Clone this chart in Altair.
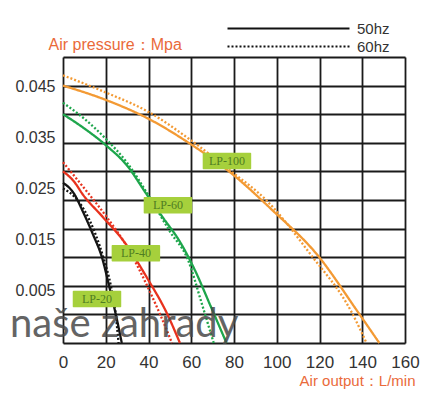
import altair as alt
import pandas as pd

# ---- data ----
lp100_50_x = [0, 20, 40, 60, 78, 98, 119, 138, 148]
lp100_50_y = [0.045, 0.0425, 0.0392, 0.0347, 0.0299, 0.0232, 0.0154, 0.0054, 0.0]
lp100_60_x = [0, 20, 40, 60, 78, 95, 116, 135, 142]
lp100_60_y = [0.0468, 0.0438, 0.0404, 0.0354, 0.0302, 0.0250, 0.0154, 0.0054, 0.0]

lp60_50_x = [0, 10, 20, 30, 39.3, 47, 54.7, 62, 69, 76.5]
lp60_50_y = [0.040, 0.0375, 0.0346, 0.031, 0.0259, 0.0218, 0.0177, 0.0125, 0.0065, 0.0]
lp60_60_x = [0, 10, 20, 30, 40, 50, 58.5, 65, 70.5]
lp60_60_y = [0.042, 0.0392, 0.0357, 0.0315, 0.0258, 0.0195, 0.0145, 0.0068, 0.0]

lp40_50_x = [0, 5, 9.4, 18.7, 29, 39.3, 48.6, 54.7]
lp40_50_y = [0.030, 0.0283, 0.0259, 0.022, 0.0175, 0.0114, 0.0052, 0.0]
lp40_60_x = [0, 9.4, 20.5, 30, 40, 46, 51]
lp40_60_y = [0.0316, 0.0273, 0.022, 0.0168, 0.0095, 0.0045, 0.0]

lp20_50_x = [0, 5, 9.4, 14, 18.2, 22, 25, 27.5]
lp20_50_y = [0.028, 0.0262, 0.0229, 0.019, 0.015, 0.0093, 0.0045, 0.0]
lp20_60_x = [0, 5, 10, 15, 19, 22.5, 24.5, 26]
lp20_60_y = [0.027, 0.0257, 0.0232, 0.0192, 0.0148, 0.0098, 0.0055, 0.0]

pumps = ["LP-100", "LP-60", "LP-40", "LP-20"]
pump_colors = ["#f39a34", "#1ea64c", "#e8321e", "#151515"]
freqs = ["50hz", "60hz"]

label_x = [76.7, 49.1, 34.1, 15.9]
label_y = [0.0318, 0.0241, 0.0157, 0.0077]

x_ticks = [0, 20, 40, 60, 80, 100, 120, 140, 160]
y_grid = [0.0, 0.005, 0.01, 0.015, 0.02, 0.025, 0.03, 0.035, 0.04, 0.045, 0.05]
y_labels = [0.005, 0.015, 0.025, 0.035, 0.045]

# ---- build table ----
series = [
    ("LP-100", "50hz", lp100_50_x, lp100_50_y),
    ("LP-100", "60hz", lp100_60_x, lp100_60_y),
    ("LP-60", "50hz", lp60_50_x, lp60_50_y),
    ("LP-60", "60hz", lp60_60_x, lp60_60_y),
    ("LP-40", "50hz", lp40_50_x, lp40_50_y),
    ("LP-40", "60hz", lp40_60_x, lp40_60_y),
    ("LP-20", "50hz", lp20_50_x, lp20_50_y),
    ("LP-20", "60hz", lp20_60_x, lp20_60_y),
]
rows = []
for p, f, xs, ys in series:
    for i, (a, b) in enumerate(zip(xs, ys)):
        rows.append({"pump": p, "freq": f, "flow": a, "pressure": b, "order": i})
df = pd.DataFrame(rows)
labels_df = pd.DataFrame({"pump": pumps, "flow": label_x, "pressure": label_y})
ylab_df = pd.DataFrame({"v": y_labels})

FONT = "Liberation Sans"
ORANGE = "#ea6a3a"
GRID = "#1a1a1a"

x_scale = alt.Scale(domain=[0, 160], nice=False, zero=False)
y_scale = alt.Scale(domain=[0, 0.05], nice=False)

x_axis = alt.Axis(values=x_ticks, grid=True, ticks=False, domain=False,
                  labelFontSize=17, labelColor="#333", labelFont=FONT, labelFlush=False,
                  labelPadding=11, gridColor=GRID, gridWidth=1.8, gridOpacity=1,
                  title="Air output：L/min", titleColor=ORANGE, titleFont=FONT,
                  titleFontSize=15, titleFontWeight="normal", titleAlign="right",
                  titleAnchor="end", titleX=352, titleY=37, titleBaseline="middle")
x_enc = alt.X("flow:Q", scale=x_scale, axis=x_axis)
y_enc = alt.Y(
    "pressure:Q", scale=y_scale,
    axis=alt.Axis(values=y_grid, grid=True, ticks=False, domain=False, labels=False,
                  gridColor=GRID, gridWidth=1.8, gridOpacity=1, title=None),
)

lines = alt.Chart(df).mark_line(interpolate="monotone", strokeWidth=2.3).encode(
    x=x_enc,
    y=y_enc,
    color=alt.Color("pump:N", scale=alt.Scale(domain=pumps, range=pump_colors), legend=None),
    strokeDash=alt.StrokeDash(
        "freq:N",
        scale=alt.Scale(domain=freqs, range=[[1, 0], [2, 2]]),
        legend=alt.Legend(orient="none", legendX=217, legendY=-37, title=None,
                          symbolType="M-8.714,0H8.714", symbolSize=196,
                          symbolStrokeColor="#111", symbolStrokeWidth=2.2,
                          labelFontSize=15, labelColor="#333", labelFont=FONT,
                          labelOffset=60, rowPadding=1, padding=0),
    ),
    detail="pump:N",
    order="order:Q",
)

ys_plain = alt.Y("pressure:Q", scale=y_scale, axis=None)

boxes = alt.Chart(labels_df).mark_point(
    shape="M-1,-0.32H1V0.32H-1Z", size=2209, filled=True, fill="#a6d03c", opacity=1,
    stroke="#a6d03c", strokeWidth=1.5, strokeJoin="round",
).encode(x=x_enc, y=ys_plain)

box_text = alt.Chart(labels_df).mark_text(
    font="Liberation Serif", fontSize=12, color="#4f7d22"
).encode(x=x_enc, y=ys_plain, text="pump:N")

watermark = alt.Chart(pd.DataFrame({"t": ["naše zahrady"]})).mark_text(
    font="Lato", fontSize=40, color="#4a4a4a", opacity=0.85, align="left",
    baseline="alphabetic"
).encode(x=alt.value(-53), y=alt.value(280), text="t:N")

# y-axis labels as printed on the original sheet (slightly drifting from the grid)
ylab = alt.Chart(ylab_df).mark_tick(opacity=0).encode(
    y=alt.Y("v:Q", scale=alt.Scale(domain=[-0.00527, 0.0508], nice=False, zero=False),
            axis=alt.Axis(orient="left", values=y_labels, format=".3f", grid=False,
                          ticks=False, domain=False, labelFontSize=16, labelColor="#333",
                          labelFont=FONT, labelPadding=8,
                          title="Air pressure：Mpa", titleColor=ORANGE, titleFont=FONT,
                          titleFontSize=16, titleFontWeight="normal", titleAngle=0,
                          titleAlign="left", titleBaseline="middle", titleX=-15, titleY=-13)),
)

chart = alt.layer(lines, boxes, box_text, watermark, ylab).resolve_scale(
    y="independent"
).properties(
    width=342, height=286,
    autosize=alt.AutoSizeParams(type="none"),
    padding={"left": 55, "top": 49, "right": 30, "bottom": 52},
).configure_view(stroke="#111", strokeWidth=2).configure(background="white")

chart.save("out.html", embed_options={"renderer": "svg", "actions": False})
